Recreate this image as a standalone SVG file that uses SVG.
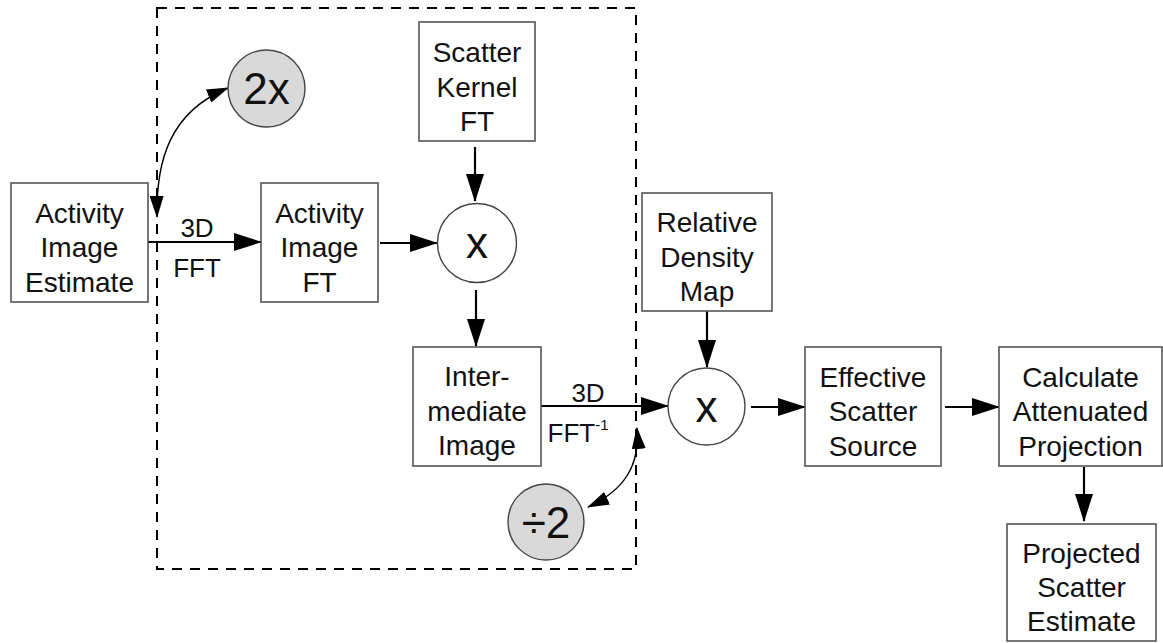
<svg xmlns="http://www.w3.org/2000/svg" width="1163" height="643" viewBox="0 0 1163 643">
<defs>
<style>
.box{fill:#fff;stroke:#555;stroke-width:1.6}
.op{fill:#fff;stroke:#444;stroke-width:1.4}
.gop{fill:#d9d9d9;stroke:#444;stroke-width:1.4}
.t{font-family:"Liberation Sans",Arial,sans-serif;font-size:28px;fill:#111;text-anchor:middle}
.lbl{font-family:"Liberation Sans",Arial,sans-serif;font-size:26px;fill:#111;text-anchor:middle}
.big{font-family:"Liberation Sans",Arial,sans-serif;font-size:44px;fill:#111;text-anchor:middle}
.ln{fill:none;stroke:#000;stroke-width:2.2}
.cv{fill:none;stroke:#000;stroke-width:1.4}
.dash{fill:none;stroke:#000;stroke-width:2;stroke-dasharray:10 8}
</style>
<marker id="ah" markerUnits="userSpaceOnUse" markerWidth="28" markerHeight="18" refX="27" refY="9" orient="auto">
<path d="M0,0 L28,9 L0,18 Z" fill="#000"/>
</marker>
<marker id="sh" markerUnits="userSpaceOnUse" markerWidth="22" markerHeight="14" refX="21" refY="7" orient="auto">
<path d="M0,0 L22,7 L0,14 Z" fill="#000"/>
</marker>
<marker id="shs" markerUnits="userSpaceOnUse" markerWidth="22" markerHeight="14" refX="1" refY="7" orient="auto">
<path d="M22,0 L0,7 L22,14 Z" fill="#000"/>
</marker>
</defs>

<rect class="dash" x="157" y="8" width="479" height="561"/>

<g id="connectors">
<line class="ln" x1="148" y1="242" x2="261" y2="242" marker-end="url(#ah)"/>
<line class="ln" x1="380" y1="243" x2="437" y2="243" marker-end="url(#ah)"/>
<line class="ln" x1="475" y1="147" x2="475" y2="201" marker-end="url(#ah)"/>
<line class="ln" x1="476" y1="290" x2="476" y2="346" marker-end="url(#ah)"/>
<line class="ln" x1="541" y1="406" x2="668" y2="406" marker-end="url(#ah)"/>
<line class="ln" x1="707" y1="311" x2="707" y2="367" marker-end="url(#ah)"/>
<line class="ln" x1="751" y1="407" x2="805" y2="407" marker-end="url(#ah)"/>
<line class="ln" x1="945" y1="407" x2="999" y2="407" marker-end="url(#ah)"/>
<line class="ln" x1="1084" y1="467" x2="1084" y2="521" marker-end="url(#ah)"/>
<path class="cv" d="M157,217 C156,160 170,112 228,88" marker-start="url(#shs)" marker-end="url(#sh)"/>
<path class="cv" d="M637,428 C640,465 625,490 588,507" marker-start="url(#shs)" marker-end="url(#sh)"/>
<text class="lbl" x="197" y="237">3D</text>
<text class="lbl" x="197" y="277">FFT</text>
<text class="lbl" x="588" y="402">3D</text>
<text class="lbl" x="578" y="442">FFT<tspan font-size="15" dy="-12">-1</tspan></text>
</g>

<g id="activity-image-estimate">
<rect class="box" x="11" y="183" width="137" height="119"/>
<text class="t" x="79.5" y="222.5">Activity</text>
<text class="t" x="79.5" y="257">Image</text>
<text class="t" x="79.5" y="291.5">Estimate</text>
</g>

<g id="two-x">
<circle class="gop" cx="266.5" cy="88.5" r="38.5"/>
<text class="big" x="266.5" y="104">2x</text>
</g>

<g id="activity-image-ft">
<rect class="box" x="261" y="183" width="117" height="119"/>
<text class="t" x="319.5" y="222.5">Activity</text>
<text class="t" x="319.5" y="257">Image</text>
<text class="t" x="319.5" y="291.5">FT</text>
</g>

<g id="scatter-kernel-ft">
<rect class="box" x="419" y="22" width="116" height="119"/>
<text class="t" x="477" y="62">Scatter</text>
<text class="t" x="477" y="96.5">Kernel</text>
<text class="t" x="477" y="131">FT</text>
</g>

<g id="multiply-1">
<circle class="op" cx="477" cy="243" r="39.5"/>
<text class="big" x="477" y="258">x</text>
</g>

<g id="intermediate-image">
<rect class="box" x="413" y="347" width="128" height="119"/>
<text class="t" x="477" y="386">Inter-</text>
<text class="t" x="477" y="420.5">mediate</text>
<text class="t" x="477" y="455">Image</text>
</g>

<g id="divide-2">
<circle class="gop" cx="546" cy="522" r="38"/>
<text class="big" x="546" y="538">÷2</text>
</g>

<g id="relative-density-map">
<rect class="box" x="642" y="193" width="130" height="118"/>
<text class="t" x="707" y="232">Relative</text>
<text class="t" x="707" y="266.5">Density</text>
<text class="t" x="707" y="301">Map</text>
</g>

<g id="multiply-2">
<circle class="op" cx="706.5" cy="406.5" r="38.5"/>
<text class="big" x="706.5" y="421.5">x</text>
</g>

<g id="effective-scatter-source">
<rect class="box" x="805" y="347" width="136" height="119"/>
<text class="t" x="873" y="386.5">Effective</text>
<text class="t" x="873" y="421">Scatter</text>
<text class="t" x="873" y="455.5">Source</text>
</g>

<g id="calculate-attenuated-projection">
<rect class="box" x="999" y="347" width="163" height="119"/>
<text class="t" x="1080.5" y="386.5">Calculate</text>
<text class="t" x="1080.5" y="421">Attenuated</text>
<text class="t" x="1080.5" y="455.5">Projection</text>
</g>

<g id="projected-scatter-estimate">
<rect class="box" x="1007" y="524" width="149" height="117"/>
<text class="t" x="1081.5" y="563">Projected</text>
<text class="t" x="1081.5" y="597">Scatter</text>
<text class="t" x="1081.5" y="631">Estimate</text>
</g>
</svg>
